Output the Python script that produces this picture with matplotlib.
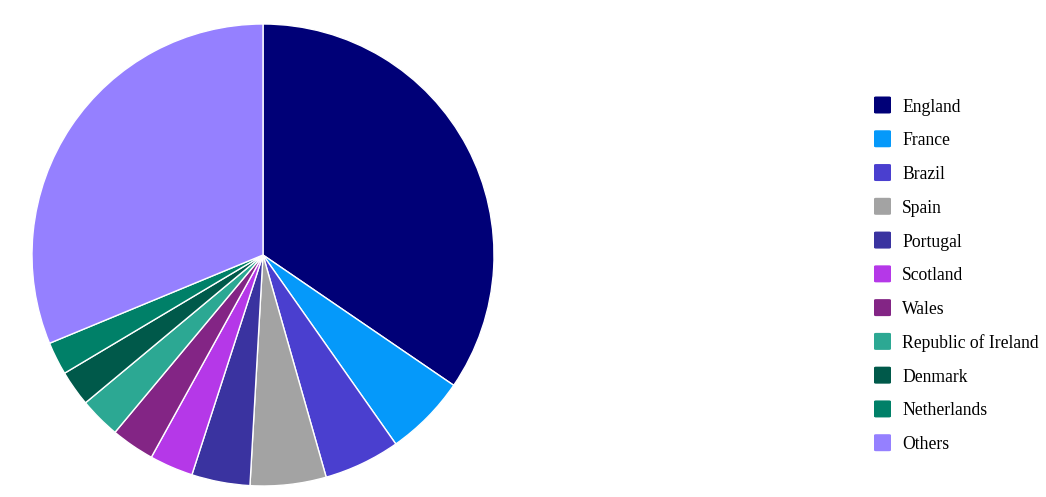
import matplotlib
matplotlib.use("Agg")
import matplotlib.pyplot as plt
from matplotlib.patches import FancyBboxPatch

categories = ["England", "France", "Brazil", "Spain", "Portugal", "Scotland",
              "Wales", "Republic of Ireland", "Denmark", "Netherlands", "Others"]
values = [34.54, 5.71, 5.34, 5.31, 4.08, 3.05, 3.04, 2.88, 2.50, 2.31, 31.24]
colors = ["#000077", "#0599fa", "#4a3fcf", "#a3a3a3", "#3a33a0", "#b538e8",
          "#832585", "#2ca893", "#00594a", "#008068", "#9580ff"]

W, H = 1046, 497
fig = plt.figure(figsize=(W / 100, H / 100), dpi=100)
cx, cy, r = 263, 255, 231
ax = fig.add_axes([(cx - r) / W, (H - cy - r) / H, 2 * r / W, 2 * r / H])
ax.pie(values, colors=colors, startangle=90, counterclock=False, radius=1,
       wedgeprops=dict(edgecolor="white", linewidth=1))
ax.set_xlim(-1, 1)
ax.set_ylim(-1, 1)
ax.set_aspect("equal")
ax.axis("off")

# legend
x0, y0, dy, sq = 874, 105, 33.77, 17
for i, (lab, col) in enumerate(zip(categories, colors)):
    yc = y0 + i * dy
    p = FancyBboxPatch((x0 / W, (H - yc - sq / 2) / H), sq / W, sq / H,
                       boxstyle="round,pad=0,rounding_size=0.002",
                       transform=fig.transFigure, facecolor=col, edgecolor="none")
    fig.patches.append(p)
    fig.text(902 / W, (H - yc - 6.5) / H, lab, fontsize=12.7, family="Liberation Serif",
             va="baseline", ha="left", color="#000000")

fig.savefig("out.png", dpi=100)
